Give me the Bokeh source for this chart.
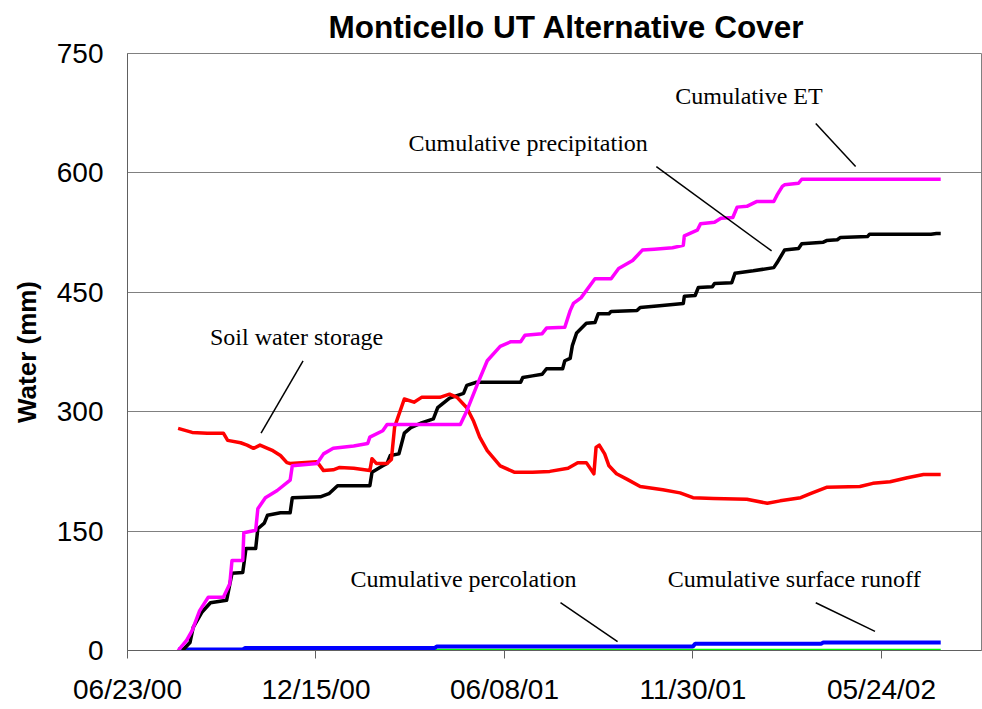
import pandas as pd
from bokeh.plotting import figure
from bokeh.models import Range1d, FixedTicker, DatetimeTickFormatter, ColumnDataSource
from bokeh.embed import file_html
from bokeh.resources import INLINE
from bokeh.core.properties import value

# ---------------- data ----------------
chart_title = "Monticello UT Alternative Cover"
y_title = "Water (mm)"
x_tick_dates = ["2000-06-23", "2000-12-15", "2001-06-08", "2001-11-30", "2002-05-24"]
y_ticks = [0, 150, 300, 450, 600, 750]
x_start = "2000-06-23"
x_end = "2002-08-24 21:00"

et_dates = ["2000-08-09", "2000-08-17", "2000-08-22", "2000-08-29", "2000-09-06", "2000-09-20",
            "2000-09-26", "2000-09-28", "2000-10-08", "2000-10-09", "2000-10-20", "2000-10-22",
            "2000-10-29", "2000-11-09", "2000-11-21", "2000-11-23", "2000-12-16", "2000-12-22",
            "2000-12-31", "2001-01-19", "2001-02-01", "2001-02-03", "2001-02-15", "2001-02-19",
            "2001-04-28", "2001-05-04", "2001-05-14", "2001-05-23", "2001-06-04", "2001-06-14",
            "2001-06-23", "2001-06-27", "2001-07-13", "2001-07-17", "2001-08-03", "2001-08-08",
            "2001-08-11", "2001-08-18", "2001-08-31", "2001-09-15", "2001-09-22", "2001-10-05",
            "2001-10-14", "2001-10-25", "2001-11-11", "2001-11-21", "2001-11-22", "2001-12-04",
            "2001-12-07", "2001-12-20", "2001-12-26", "2002-01-06", "2002-01-10", "2002-01-19",
            "2002-01-28", "2002-02-13", "2002-02-16", "2002-02-21", "2002-02-23", "2002-03-08",
            "2002-03-11", "2002-07-18"]
et_mm = [0, 13, 25, 50, 67, 67, 84, 113, 113, 148, 151, 178, 192, 201, 214, 232, 235, 247, 254, 257,
         260, 268, 276, 284, 284, 301, 335, 364, 382, 388, 388, 396, 398, 405, 406, 427, 436, 443,
         467, 467, 480, 490, 503, 504, 506, 509, 521, 528, 536, 538, 543, 544, 557, 558, 564, 564,
         572, 583, 585, 587, 592, 592]

pr_dates = ["2000-08-13", "2000-08-20", "2000-08-23", "2000-08-31", "2000-09-08", "2000-09-23",
            "2000-09-28", "2000-10-08", "2000-10-11", "2000-10-20", "2000-10-22", "2000-10-28",
            "2000-10-31", "2000-11-12", "2000-11-21", "2000-11-23", "2000-12-19", "2000-12-27",
            "2001-01-04", "2001-02-03", "2001-02-05", "2001-02-15", "2001-02-19", "2001-02-22",
            "2001-03-02", "2001-03-07", "2001-03-13", "2001-03-23", "2001-04-03", "2001-04-07",
            "2001-04-18", "2001-05-01", "2001-05-04", "2001-05-13", "2001-06-23", "2001-06-25",
            "2001-07-04", "2001-07-13", "2001-07-17", "2001-08-01", "2001-08-03", "2001-08-08",
            "2001-08-10", "2001-08-14", "2001-08-23", "2001-08-31", "2001-09-03", "2001-09-13",
            "2001-09-15", "2001-10-09", "2001-10-12", "2001-10-30", "2001-11-21", "2001-11-22",
            "2001-12-02", "2001-12-05", "2001-12-18", "2001-12-20", "2002-01-05", "2002-01-08",
            "2002-01-25", "2002-02-13", "2002-02-16", "2002-02-23", "2002-03-08", "2002-03-11",
            "2002-03-31", "2002-04-03", "2002-04-13", "2002-04-16", "2002-05-11", "2002-05-13",
            "2002-07-09", "2002-07-14", "2002-07-18"]
pr_mm = [0, 10, 29, 48, 60, 63, 97, 98, 128, 128, 153, 160, 170, 173, 173, 192, 193, 197, 207, 207,
         224, 232, 235, 245, 247, 273, 280, 286, 291, 305, 317, 323, 333, 337, 337, 343, 345, 347,
         354, 354, 364, 367, 383, 399, 411, 412, 423, 423, 426, 427, 431, 433, 436, 445, 446, 456,
         457, 461, 462, 474, 477, 481, 487, 503, 505, 511, 513, 515, 516, 519, 520, 523, 523, 524, 524]

sw_dates = ["2000-08-09", "2000-08-22", "2000-09-05", "2000-09-20", "2000-09-24", "2000-10-06",
            "2000-10-12", "2000-10-18", "2000-10-24", "2000-10-31", "2000-11-05", "2000-11-12",
            "2000-11-18", "2000-11-21", "2000-12-16", "2000-12-22", "2000-12-31", "2001-01-06",
            "2001-01-19", "2001-02-03", "2001-02-05", "2001-02-09", "2001-02-19", "2001-02-23",
            "2001-02-26", "2001-03-07", "2001-03-16", "2001-03-23", "2001-04-09", "2001-04-18",
            "2001-04-25", "2001-05-04", "2001-05-10", "2001-05-16", "2001-05-23", "2001-06-04",
            "2001-06-17", "2001-07-04", "2001-07-20", "2001-08-06", "2001-08-15", "2001-08-23",
            "2001-08-30", "2001-09-01", "2001-09-04", "2001-09-09", "2001-09-13", "2001-09-20",
            "2001-09-30", "2001-10-12", "2001-11-02", "2001-11-18", "2001-11-30", "2001-12-19",
            "2002-01-19", "2002-02-07", "2002-02-19", "2002-03-10", "2002-03-19", "2002-04-03",
            "2002-05-04", "2002-05-16", "2002-06-01", "2002-06-17", "2002-07-02", "2002-07-18"]
sw_mm = [279, 274, 273, 273, 264, 261, 258, 254, 258, 254, 251, 245, 236, 235, 237, 226, 227, 230,
         229, 226, 241, 235, 235, 240, 281, 316, 312, 318, 318, 322, 318, 305, 289, 268, 251, 232,
         224, 224, 225, 229, 236, 236, 222, 255, 258, 247, 232, 222, 215, 206, 202, 198, 192, 191,
         190, 185, 188, 192, 197, 205, 206, 210, 212, 217, 221, 221]

ro_dates = ["2000-08-09", "2000-10-08", "2000-10-10", "2001-04-04", "2001-04-06", "2001-11-30",
            "2001-12-02", "2002-03-29", "2002-03-31", "2002-07-18"]
ro_mm = [1.3, 1.3, 3.0, 3.0, 5.0, 5.0, 8.5, 8.5, 10.0, 10.0]

pc_dates = ["2000-08-09", "2001-04-05", "2001-04-06", "2002-07-18"]
pc_mm = [0.2, 0.2, 0.4, 0.4]

# annotations: text, centre position (date, mm)
note_text = ["Cumulative ET", "Cumulative precipitation", "Soil water storage",
             "Cumulative percolation", "Cumulative surface runoff"]
note_date = ["2002-01-21", "2001-06-30", "2000-11-27", "2001-05-01", "2002-03-04"]
note_mm = [697, 637, 394, 90, 90]
# leader lines
lead_d0 = ["2002-03-24", "2001-10-27", "2000-12-03", "2001-07-30", "2002-03-24"]
lead_v0 = [662, 608, 364, 60, 60]
lead_d1 = ["2002-04-30", "2002-02-11", "2000-10-25", "2001-09-21", "2002-05-18"]
lead_v1 = [608, 502, 273, 11, 24]

# ---------------- figure ----------------
dt = pd.to_datetime
p = figure(width=982, height=709, x_axis_type="datetime", output_backend="svg",
           toolbar_location=None,
           x_range=Range1d(dt(x_start).to_pydatetime(), dt(x_end).to_pydatetime()),
           y_range=Range1d(0, 750),
           min_border_left=127, min_border_right=1, min_border_top=53, min_border_bottom=59)
p.background_fill_color = "white"
p.border_fill_color = "white"
p.outline_line_color = "#808080"
p.outline_line_width = 1

p.title.text = chart_title
p.title.align = "left"
p.title.offset = 201
p.title.standoff = 13
p.title.vertical_align = "top"
p.title.text_font = "Liberation Sans"
p.title.text_font_style = "bold"
p.title.text_font_size = "31.5px"
p.title.text_color = "black"

p.xgrid.grid_line_color = None
p.ygrid.grid_line_color = "#808080"
p.ygrid.grid_line_width = 1
p.ygrid.ticker = FixedTicker(ticks=y_ticks)

xa = p.xaxis[0]
xa.ticker = FixedTicker(ticks=[dt(d).timestamp() * 1000 for d in x_tick_dates])
xa.formatter = DatetimeTickFormatter(days="%m/%d/%y", months="%m/%d/%y", years="%m/%d/%y",
                                     hours="%m/%d/%y", hourmin="%m/%d/%y")
xa.major_tick_out = 8
xa.major_tick_in = 0
xa.minor_tick_out = 0
xa.minor_tick_in = 0
xa.major_label_standoff = 15
xa.major_label_text_font = "Liberation Sans"
xa.major_label_text_font_size = "28px"
xa.major_label_text_color = "black"
xa.axis_line_color = "#606060"
xa.major_tick_line_color = "#606060"

ya = p.yaxis[0]
ya.ticker = FixedTicker(ticks=y_ticks)
ya.major_tick_out = 0
ya.major_tick_in = 0
ya.minor_tick_out = 0
ya.minor_tick_in = 0
ya.major_label_standoff = 24
ya.major_label_text_font = "Liberation Sans"
ya.major_label_text_font_size = "28px"
ya.major_label_text_color = "black"
ya.axis_line_color = "#606060"
ya.axis_label = y_title
ya.axis_label_text_font = "Liberation Sans"
ya.axis_label_text_font_style = "bold"
ya.axis_label_text_font_size = "26px"
ya.axis_label_text_color = "black"
ya.axis_label_standoff = 12

# ---------------- series ----------------
p.line(dt(pc_dates), pc_mm, line_color="#00FF00", line_width=3)
p.line(dt(ro_dates), ro_mm, line_color="#0000FF", line_width=4)
p.line(dt(pr_dates), pr_mm, line_color="black", line_width=3.5, line_join="round")
p.line(dt(sw_dates), sw_mm, line_color="#FF0000", line_width=3.5, line_join="round")
p.line(dt(et_dates), et_mm, line_color="#FF00FF", line_width=3.5, line_join="round")

lead_src = ColumnDataSource(dict(x0=dt(lead_d0), y0=lead_v0, x1=dt(lead_d1), y1=lead_v1))
p.segment("x0", "y0", "x1", "y1", source=lead_src, line_color="black", line_width=1.5)

note_src = ColumnDataSource(dict(x=dt(note_date), y=note_mm, t=note_text))
p.text("x", "y", text="t", source=note_src, text_align="center", text_baseline="middle",
       text_font=value("Liberation Serif"), text_font_size=value("24px"), text_color="black")

open("out.html", "w").write(file_html(p, INLINE))
